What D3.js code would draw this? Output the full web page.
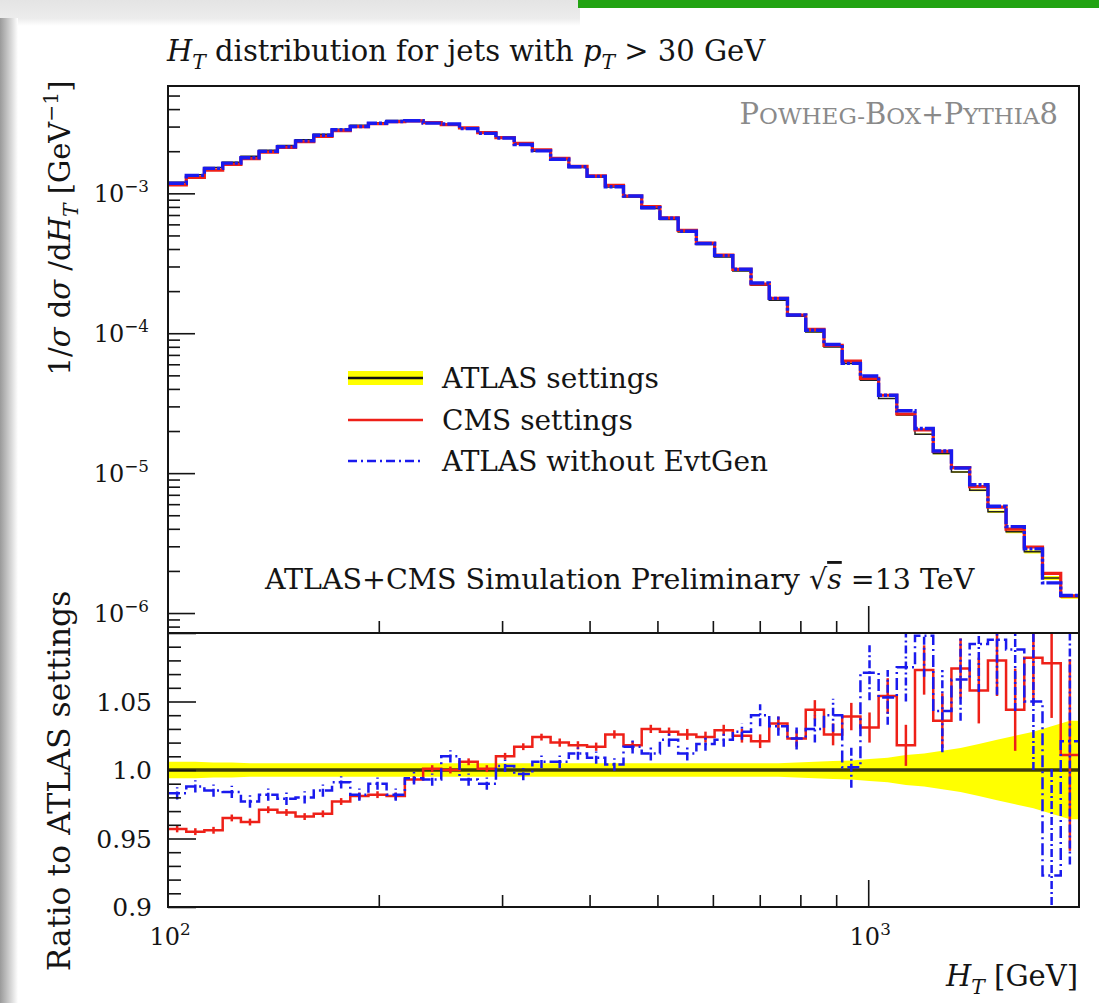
<!DOCTYPE html>
<html lang="en">
<head>
<meta charset="utf-8">
<title>HT distribution: ATLAS vs CMS settings</title>
<script src="https://cdn.jsdelivr.net/npm/d3@7"></script>
<style>
  body { margin: 0; background: #fff; }
  svg { display: block; }
  text { font-family: "DejaVu Serif", "Liberation Serif", serif; fill: #141414; white-space: pre; }
</style>
</head>
<body>
<script>
// HT bin edges [GeV], 50 log-spaced bins from 100 to 2000
var binEdges = [100, 106.2, 112.7, 119.7, 127.1, 134.9, 143.3, 152.1, 161.5, 171.5,
  182.1, 193.3, 205.2, 217.9, 231.4, 245.6, 260.8, 276.9, 294.0, 312.2,
  331.4, 351.9, 373.6, 396.7, 421.2, 447.2, 474.8, 504.1, 535.3, 568.3,
  603.4, 640.7, 680.2, 722.2, 766.8, 814.3, 864.6, 918.0, 974.7, 1034.8,
  1098.5, 1166.3, 1238.4, 1314.8, 1396.0, 1482.5, 1573.5, 1670.7, 1773.8, 1883.4, 2000];

// ATLAS settings: 1/sigma dsigma/dHT [GeV^-1]
var atlasValues = [1.20e-3, 1.36e-3, 1.53e-3, 1.67e-3, 1.84e-3, 2.03e-3, 2.20e-3, 2.42e-3, 2.64e-3, 2.87e-3,
  3.06e-3, 3.20e-3, 3.32e-3, 3.32e-3, 3.20e-3, 3.10e-3, 2.92e-3, 2.71e-3, 2.48e-3, 2.24e-3,
  2.00e-3, 1.74e-3, 1.53e-3, 1.31e-3, 1.11e-3, 9.4e-4, 7.8e-4, 6.5e-4, 5.3e-4, 4.3e-4,
  3.51e-4, 2.79e-4, 2.20e-4, 1.72e-4, 1.32e-4, 1.02e-4, 7.98e-5, 6.08e-5, 4.62e-5, 3.42e-5,
  2.60e-5, 1.90e-5, 1.38e-5, 1.02e-5, 7.56e-6, 5.30e-6, 3.81e-6, 2.74e-6, 1.78e-6, 1.31e-6];

// relative uncertainty of the ATLAS settings (yellow band)
var atlasBand = [0.006, 0.006, 0.0055, 0.0055, 0.005, 0.005, 0.005, 0.005, 0.005, 0.005,
  0.005, 0.005, 0.005, 0.005, 0.005, 0.005, 0.005, 0.005, 0.005, 0.005,
  0.005, 0.005, 0.005, 0.005, 0.005, 0.005, 0.005, 0.005, 0.005, 0.005,
  0.005, 0.005, 0.005, 0.005, 0.0055, 0.006, 0.0065, 0.007, 0.008, 0.009,
  0.011, 0.012, 0.014, 0.016, 0.019, 0.022, 0.025, 0.028, 0.032, 0.036];

// ratio CMS settings / ATLAS settings
var cmsRatio = [0.957, 0.955, 0.956, 0.965, 0.962, 0.971, 0.969, 0.966, 0.968, 0.977,
  0.981, 0.982, 0.981, 0.993, 1.001, 1.000, 1.006, 1.001, 1.010, 1.017,
  1.024, 1.020, 1.018, 1.017, 1.026, 1.018, 1.030, 1.028, 1.026, 1.024,
  1.029, 1.025, 1.021, 1.034, 1.023, 1.044, 1.026, 1.039, 1.031, 1.054,
  1.018, 1.073, 1.036, 1.074, 1.058, 1.080, 1.044, 1.082, 1.078, 1.011];
var cmsRatioErr = [0.0025, 0.0025, 0.0025, 0.0025, 0.0025, 0.0025, 0.0025, 0.0025, 0.0025, 0.0025,
  0.0025, 0.0025, 0.0025, 0.0025, 0.0025, 0.0025, 0.0025, 0.0025, 0.0025, 0.0025,
  0.0025, 0.003, 0.003, 0.003, 0.003, 0.003, 0.003, 0.003, 0.004, 0.004,
  0.004, 0.005, 0.005, 0.005, 0.006, 0.007, 0.008, 0.010, 0.011, 0.013,
  0.015, 0.018, 0.020, 0.022, 0.024, 0.026, 0.030, 0.034, 0.040, 0.070];

// ratio ATLAS without EvtGen / ATLAS settings
var noEvtGenRatio = [0.983, 0.988, 0.985, 0.984, 0.977, 0.982, 0.979, 0.980, 0.985, 0.991,
  0.982, 0.990, 0.982, 0.994, 0.993, 1.010, 0.993, 0.990, 1.003, 0.997,
  1.006, 1.006, 1.012, 1.009, 1.004, 1.017, 1.012, 1.022, 1.012, 1.019,
  1.022, 1.028, 1.040, 1.032, 1.023, 1.030, 1.040, 1.002, 1.071, 1.053,
  1.075, 1.098, 1.043, 1.066, 1.092, 1.095, 1.088, 1.050, 0.923, 1.021];
var noEvtGenRatioErr = [0.0045, 0.0045, 0.0045, 0.0045, 0.0045, 0.0045, 0.0045, 0.0045, 0.0045, 0.0045,
  0.0045, 0.0045, 0.0045, 0.0045, 0.0045, 0.0045, 0.0045, 0.0045, 0.0045, 0.0045,
  0.0045, 0.0045, 0.0045, 0.0045, 0.0045, 0.005, 0.005, 0.005, 0.005, 0.005,
  0.005, 0.006, 0.008, 0.007, 0.008, 0.010, 0.012, 0.015, 0.020, 0.020,
  0.025, 0.030, 0.030, 0.030, 0.035, 0.040, 0.045, 0.050, 0.080, 0.090];

// axis ticks and labels
var mainYTicks = [1e-3, 1e-4, 1e-5, 1e-6];
var mainYLabels = ["\u22123", "\u22124", "\u22125", "\u22126"];
var ratioYTicks = [0.9, 0.95, 1.0, 1.05];
var ratioYLabels = ["0.9", "0.95", "1.0", "1.05"];
var xMajorTicks = [100, 1000];
var xMajorLabels = ["2", "3"];

var legendNames = ["ATLAS settings", "CMS settings", "ATLAS without EvtGen"];

var W = 1099, H = 1003;
var left = 168, right = 1079, mainTop = 86, mainBottom = 633, ratioBottom = 907;
var red = "#ee2018", blue = "#1a1aee", yellow = "#ffff00";
var dashDot = "12,4,2,4";

var svg = d3.select("body").append("svg").attr("width", W).attr("height", H);

// --- screenshot frame: shadow on the left, grey strip and green bar on top
var defs = svg.append("defs");
var gl = defs.append("linearGradient").attr("id", "shadeLeft").attr("x1", 0).attr("x2", 1).attr("y1", 0).attr("y2", 0);
gl.append("stop").attr("offset", 0).attr("stop-color", "#9a9a9a");
gl.append("stop").attr("offset", 0.6).attr("stop-color", "#d6d6d6");
gl.append("stop").attr("offset", 1).attr("stop-color", "#ffffff");
var gt = defs.append("linearGradient").attr("id", "shadeTop").attr("x1", 0).attr("x2", 0).attr("y1", 0).attr("y2", 1);
gt.append("stop").attr("offset", 0).attr("stop-color", "#e4e4e4");
gt.append("stop").attr("offset", 0.7).attr("stop-color", "#ececec");
gt.append("stop").attr("offset", 1).attr("stop-color", "#ffffff");
svg.append("rect").attr("x", 0).attr("y", 0).attr("width", 580).attr("height", 26).attr("fill", "url(#shadeTop)");
svg.append("rect").attr("x", 0).attr("y", 18).attr("width", 18).attr("height", H - 18).attr("fill", "url(#shadeLeft)");
svg.append("rect").attr("x", 578).attr("y", 0).attr("width", W - 578).attr("height", 8).attr("fill", "#22a312");

// --- scales
var x = d3.scaleLog().domain([100, 2000]).range([left, right]);
var yMain = d3.scaleLog().domain([7.2e-7, 5.85e-3]).range([mainBottom, mainTop]);
var yRatio = d3.scaleLinear().domain([0.9, 1.1]).range([ratioBottom, mainBottom]);

var bins = d3.range(atlasValues.length);
function centre(i){ return Math.sqrt(binEdges[i] * binEdges[i + 1]); }

// step line through the bin edges, last value repeated on the upper edge
function step_points(vals){
  var pts = bins.map(function(i){ return [binEdges[i], vals[i]]; });
  pts.push([binEdges[binEdges.length - 1], vals[vals.length - 1]]);
  return pts;
}

// text made of plain, italic, sub- and superscript parts
function rich_text(parent, parts, size){
  var t = parent.append("text").attr("font-size", size);
  var shift = 0;
  parts.forEach(function(p){
    if (typeof p === "string") p = {t: p};
    var want = p.sub ? 0.28 * size : (p.sup ? -0.42 * size : 0);
    var s = t.append("tspan").text(p.t).attr("dy", want - shift);
    shift = want;
    if (p.it) s.attr("font-style", "italic");
    if (p.sub || p.sup) s.attr("font-size", size * 0.7);
    if (p.size) s.attr("font-size", p.size);
    if (p.over) s.attr("text-decoration", "overline");
  });
  return t;
}

defs.append("clipPath").attr("id", "clipMain").append("rect")
  .attr("x", left).attr("y", mainTop).attr("width", right - left).attr("height", mainBottom - mainTop);
defs.append("clipPath").attr("id", "clipRatio").append("rect")
  .attr("x", left).attr("y", mainBottom).attr("width", right - left).attr("height", ratioBottom - mainBottom);

// --- main panel
var main = svg.append("g").attr("clip-path", "url(#clipMain)");

var bandMain = d3.area().curve(d3.curveStepAfter)
  .x(function(d){ return x(d[0]); })
  .y0(function(d){ return yMain(d[1] * (1 - d[2])); })
  .y1(function(d){ return yMain(d[1] * (1 + d[2])); });
var bandPts = bins.map(function(i){ return [binEdges[i], atlasValues[i], atlasBand[i]]; });
bandPts.push([2000, atlasValues[49], atlasBand[49]]);
main.append("path").attr("d", bandMain(bandPts)).attr("fill", yellow);

var lineMain = d3.line().curve(d3.curveStepAfter)
  .x(function(d){ return x(d[0]); })
  .y(function(d){ return yMain(d[1]); });

var cmsMain = bins.map(function(i){ return atlasValues[i] * cmsRatio[i]; });
var noEvtGenMain = bins.map(function(i){ return atlasValues[i] * noEvtGenRatio[i]; });

main.append("path").attr("d", lineMain(step_points(atlasValues)))
  .attr("fill", "none").attr("stroke", "#222").attr("stroke-width", 1.5);
main.append("path").attr("d", lineMain(step_points(cmsMain)))
  .attr("fill", "none").attr("stroke", red).attr("stroke-width", 3.2);
// blue drawn last with short gaps, so it dominates the overlapping curves
main.append("path").attr("d", lineMain(step_points(noEvtGenMain)))
  .attr("fill", "none").attr("stroke", blue).attr("stroke-width", 3.4).attr("stroke-dasharray", "16,2,3,2");

// --- ratio panel
var ratio = svg.append("g").attr("clip-path", "url(#clipRatio)");

// smooth band through the bin centres, held flat out to the edges
var bandRatio = d3.area()
  .x(function(d){ return x(d[0]); })
  .y0(function(d){ return yRatio(1 - d[1]); })
  .y1(function(d){ return yRatio(1 + d[1]); });
var bandRPts = [[100, atlasBand[0]]].concat(bins.map(function(i){ return [centre(i), atlasBand[i]]; }));
bandRPts.push([2000, atlasBand[49]]);
ratio.append("path").attr("d", bandRatio(bandRPts)).attr("fill", yellow);
ratio.append("line").attr("x1", left).attr("x2", right)
  .attr("y1", yRatio(1)).attr("y2", yRatio(1))
  .attr("stroke", "#3c3c0a").attr("stroke-width", 3.5);

var lineRatio = d3.line().curve(d3.curveStepAfter)
  .x(function(d){ return x(d[0]); })
  .y(function(d){ return yRatio(d[1]); });

function error_bars(g, vals, errs, colour, dash){
  g.selectAll(null).data(bins).enter().append("line")
    .attr("x1", function(i){ return x(centre(i)); })
    .attr("x2", function(i){ return x(centre(i)); })
    .attr("y1", function(i){ return yRatio(vals[i] - errs[i]); })
    .attr("y2", function(i){ return yRatio(vals[i] + errs[i]); })
    .attr("stroke", colour).attr("stroke-width", 2.5)
    .attr("stroke-dasharray", dash || null);
}

ratio.append("path").attr("d", lineRatio(step_points(cmsRatio)))
  .attr("fill", "none").attr("stroke", red).attr("stroke-width", 2.5);
error_bars(ratio, cmsRatio, cmsRatioErr, red);

ratio.append("path").attr("d", lineRatio(step_points(noEvtGenRatio)))
  .attr("fill", "none").attr("stroke", blue).attr("stroke-width", 2.5).attr("stroke-dasharray", dashDot);
error_bars(ratio, noEvtGenRatio, noEvtGenRatioErr, blue, "8,3,2,3");

// --- ticks
function isDecade(v){ var l = Math.log10(v); return Math.abs(l - Math.round(l)) < 1e-6; }

function tick_axis(axis, tx, ty){
  var g = svg.append("g").attr("transform", "translate(" + tx + "," + ty + ")").call(axis);
  g.select(".domain").remove();
  g.selectAll("line").attr("stroke", "#141414").attr("stroke-width", 1.6);
  return g;
}

var yMinor = yMain.ticks().filter(function(v){ return !isDecade(v); });
tick_axis(d3.axisRight(yMain).tickValues(yMinor).tickSize(12).tickFormat(""), left, 0);
tick_axis(d3.axisRight(yMain).tickValues(mainYTicks).tickSize(27).tickFormat(""), left, 0);

var rMinor = yRatio.ticks(20).filter(function(v){ return Math.abs(v * 20 - Math.round(v * 20)) > 1e-6; });
tick_axis(d3.axisRight(yRatio).tickValues(rMinor).tickSize(13).tickFormat(""), left, 0);
tick_axis(d3.axisRight(yRatio).tickValues(ratioYTicks.concat([1.1])).tickSize(28).tickFormat(""), left, 0);

var xMinor = x.ticks().filter(function(v){ return !isDecade(v) && v < 2000; });
[mainBottom, ratioBottom].forEach(function(yy){
  tick_axis(d3.axisTop(x).tickValues(xMinor).tickSize(12).tickFormat(""), 0, yy);
  tick_axis(d3.axisTop(x).tickValues([1000]).tickSize(27).tickFormat(""), 0, yy);
});

// --- frames
svg.append("rect").attr("x", left).attr("y", mainTop).attr("width", right - left).attr("height", mainBottom - mainTop)
  .attr("fill", "none").attr("stroke", "#141414").attr("stroke-width", 2);
svg.append("rect").attr("x", left).attr("y", mainBottom).attr("width", right - left).attr("height", ratioBottom - mainBottom)
  .attr("fill", "none").attr("stroke", "#141414").attr("stroke-width", 2);

// --- tick labels
mainYTicks.forEach(function(v, k){
  rich_text(svg, ["10", {t: mainYLabels[k], sup: true}], 24)
    .attr("x", 149).attr("y", yMain(v) + 9).attr("text-anchor", "end");
});
ratioYTicks.forEach(function(v, k){
  svg.append("text").attr("x", 152).attr("y", yRatio(v) + 9).attr("text-anchor", "end")
    .attr("font-size", 25).text(ratioYLabels[k]);
});
xMajorTicks.forEach(function(v, k){
  rich_text(svg, ["10", {t: xMajorLabels[k], sup: true}], 24)
    .attr("x", x(v) + 2).attr("y", 945).attr("text-anchor", "middle");
});

// --- axis titles
rich_text(svg.append("g").attr("transform", "translate(70,228) rotate(-90)"),
  ["1/", {t: "\u03c3", it: true}, " d", {t: "\u03c3", it: true}, " /d", {t: "H", it: true}, {t: "T", it: true, sub: true},
   " [GeV", {t: "\u22121", sup: true}, "]"], 29).attr("text-anchor", "middle");
rich_text(svg.append("g").attr("transform", "translate(70,781) rotate(-90)"),
  ["Ratio to ATLAS settings"], 31.5).attr("text-anchor", "middle");
rich_text(svg, [{t: "H", it: true}, {t: "T", it: true, sub: true}, " [GeV]"], 29)
  .attr("x", 1078).attr("y", 986).attr("text-anchor", "end");

// --- title and labels
rich_text(svg, [{t: "H", it: true}, {t: "T", it: true, sub: true}, " distribution for jets with ",
  {t: "p", it: true}, {t: "T", it: true, sub: true}, " > 30 GeV"], 29).attr("x", 167).attr("y", 61);

rich_text(svg, [{t: "P", size: 29}, {t: "OWHEG-", size: 23}, {t: "B", size: 29}, {t: "OX", size: 23},
  {t: "+", size: 27}, {t: "P", size: 29}, {t: "YTHIA", size: 23}, {t: "8", size: 29}], 29)
  .attr("x", 1058).attr("y", 124).attr("text-anchor", "end").selectAll("tspan").attr("fill", "#8a8a8a");

rich_text(svg, ["ATLAS+CMS Simulation Preliminary ", "\u221a", {t: "s", it: true, over: true}, " =13 TeV"], 28.5)
  .attr("x", 265).attr("y", 589);

// --- legend
var legY = [378, 420, 461];
svg.append("rect").attr("x", 348).attr("y", legY[0] - 7).attr("width", 75).attr("height", 14).attr("fill", yellow);
svg.append("line").attr("x1", 348).attr("x2", 423).attr("y1", legY[0]).attr("y2", legY[0])
  .attr("stroke", "#111").attr("stroke-width", 2.5);
svg.append("line").attr("x1", 348).attr("x2", 423).attr("y1", legY[1]).attr("y2", legY[1])
  .attr("stroke", red).attr("stroke-width", 2.5);
svg.append("line").attr("x1", 348).attr("x2", 423).attr("y1", legY[2]).attr("y2", legY[2])
  .attr("stroke", blue).attr("stroke-width", 2.5).attr("stroke-dasharray", "9,4,2,4");
legendNames.forEach(function(name, k){
  svg.append("text").attr("x", 442).attr("y", legY[k] + 10).attr("font-size", 28).text(name);
});
</script>
</body>
</html>
